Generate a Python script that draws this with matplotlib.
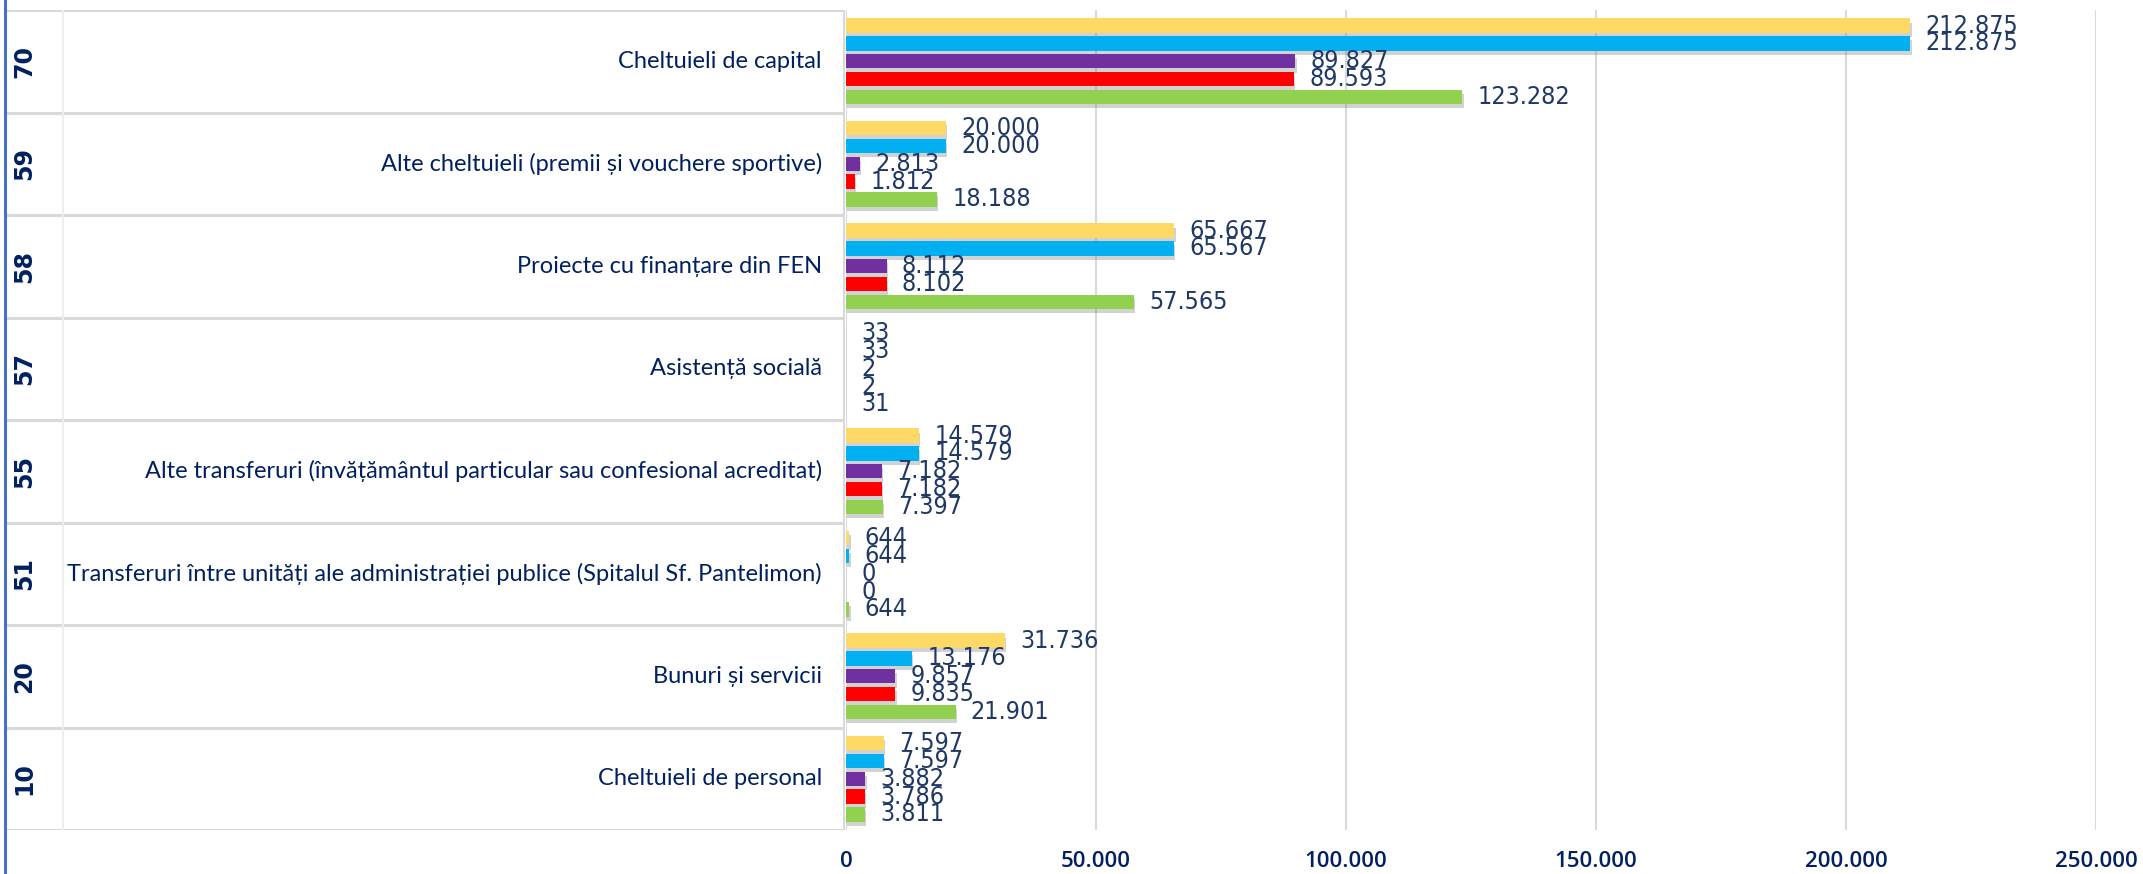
import matplotlib
matplotlib.use("Agg")
import matplotlib.pyplot as plt
import matplotlib.patheffects as pe
from matplotlib.lines import Line2D
from matplotlib import font_manager


# categorii, de jos in sus
coduri = ["10", "20", "51", "55", "57", "58", "59", "70"]
denumiri = [
    "Cheltuieli de personal",
    "Bunuri și servicii",
    "Transferuri între unități ale administrației publice (Spitalul Sf. Pantelimon)",
    "Alte transferuri (învățământul particular sau confesional acreditat)",
    "Asistență socială",
    "Proiecte cu finanțare din FEN",
    "Alte cheltuieli (premii și vouchere sportive)",
    "Cheltuieli de capital",
]

# serii (de sus in jos in fiecare grup)
serie_galben = [7597, 31736, 644, 14579, 33, 65667, 20000, 212875]
serie_albastru = [7597, 13176, 644, 14579, 33, 65567, 20000, 212875]
serie_mov = [3882, 9857, 0, 7182, 2, 8112, 2813, 89827]
serie_rosu = [3786, 9835, 0, 7182, 2, 8102, 1812, 89593]
serie_verde = [3811, 21901, 644, 7397, 31, 57565, 18188, 123282]

x_ticks = [0, 50000, 100000, 150000, 200000, 250000]

CULORI = ["#FFD966", "#00B0F0", "#7030A0", "#FF0000", "#92D050"]
NAVY = "#1F3864"
GRI = "#D9D9D9"

W, H = 2143, 874


def fmt(v):
    return f"{v:,}".replace(",", ".")


def font_eticheta():
    # font ingust pentru etichete, daca exista
    nume = {f.name for f in font_manager.fontManager.ttflist}
    if "Liberation Sans Narrow" in nume:
        return dict(fontfamily="Liberation Sans Narrow", fontsize=20)
    return dict(fontfamily="DejaVu Sans", fontstretch="condensed", fontsize=18)


def main():
    fig = plt.figure(figsize=(W / 100, H / 100), dpi=100)

    x0, x1 = 846, 2096
    y_top, y_bot = 10, 830
    ax = fig.add_axes([x0 / W, 1 - y_bot / H, (x1 - x0) / W, (y_bot - y_top) / H])

    serii = [serie_galben, serie_albastru, serie_mov, serie_rosu, serie_verde]
    pas = 0.1735
    inaltime = 0.141
    umbra = [pe.SimplePatchShadow(offset=(1.0, -3), shadow_rgbFace="#808080", alpha=0.35), pe.Normal()]
    fe = font_eticheta()

    poz = list(range(len(coduri)))
    for i, (vals, cul) in enumerate(zip(serii, CULORI)):
        off = (2 - i) * pas
        bare = ax.barh([p + off for p in poz], vals, height=inaltime, color=cul, zorder=3)
        for b, v in zip(bare, vals):
            # fara umbra pe barele aproape nule
            if v >= 100:
                b.set_path_effects(umbra)
        ax.bar_label(bare, labels=[fmt(v) for v in vals], padding=11, color=NAVY, **fe)

    ax.set_xlim(0, 250000)
    ax.set_ylim(-0.5, len(coduri) - 0.5)
    ax.set_xticks(x_ticks)
    ax.set_xticklabels([fmt(v) for v in x_ticks], fontsize=16, color="#002060",
                       fontfamily=["Open Sans", "DejaVu Sans"], fontweight="semibold")
    ax.tick_params(axis="x", length=0, pad=15)
    ax.set_yticks([])
    ax.grid(axis="x", color=GRI, lw=1.5, zorder=0)
    ax.set_axisbelow(True)
    for s in ax.spines.values():
        s.set_visible(False)

    # tabelul din stanga (coduri + denumiri)
    tx0, tx1 = 5, 845
    tab = fig.add_axes([tx0 / W, 1 - y_bot / H, (tx1 - tx0) / W, (y_bot - y_top) / H])
    tab.set_xlim(tx0, tx1)
    tab.set_ylim(-0.5, len(coduri) - 0.5)
    tab.axis("off")
    for k in range(len(coduri) + 1):
        tab.axhline(k - 0.5, color=GRI, lw=2.2, zorder=1)
    tab.axvline(tx1 - 1, color=GRI, lw=2.2)
    tab.axvline(63, color="#eeeeee", lw=1.5)
    for p, cod, nume in zip(poz, coduri, denumiri):
        tab.text(24, p, cod, rotation=90, ha="center", va="center", fontsize=17,
                 fontweight="semibold", color="#002060", family=["DejaVu Sans"])
        tab.text(822, p, nume, ha="right", va="center", fontsize=17,
                 color="#002060", family=["Lato", "DejaVu Sans"])

    # chenarul albastru din stanga
    fig.add_artist(Line2D([5 / W, 5 / W], [0, 1], color="#4472C4", lw=2.2))

    fig.savefig("out.png", dpi=100)
    plt.close(fig)


if __name__ == "__main__":
    main()
